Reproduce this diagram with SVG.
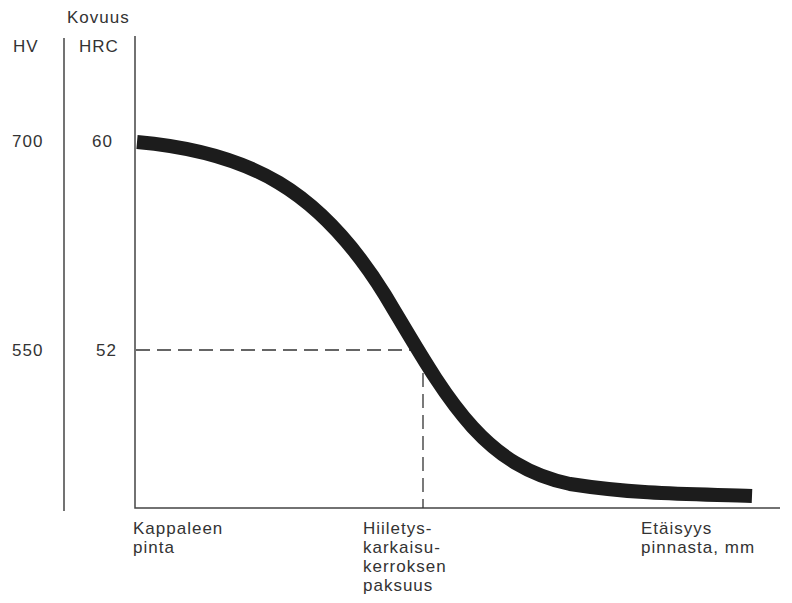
<svg xmlns="http://www.w3.org/2000/svg" width="792" height="603" viewBox="0 0 792 603">
<style>
text{font-family:"Liberation Sans",Arial,sans-serif;font-size:17px;letter-spacing:1px;fill:#333}
.ax{stroke:#444;stroke-width:1.5;fill:none}
.dash{stroke:#333;stroke-width:1.3;fill:none;stroke-dasharray:14 7}
</style>
<rect width="792" height="603" fill="#fff"/>
<g id="axes">
<line class="ax" x1="64" y1="38" x2="64" y2="511"/>
<polyline class="ax" points="135,36 135,508 780,508"/>
</g>
<g id="labels">
<text x="67" y="23">Kovuus</text>
<text x="13" y="52">HV</text>
<text x="79" y="52">HRC</text>
<text x="12" y="147">700</text>
<text x="92" y="147">60</text>
<text x="12" y="356">550</text>
<text x="96" y="356">52</text>
<text x="133" y="534">Kappaleen</text>
<text x="133" y="553">pinta</text>
<text x="363" y="534">Hiiletys-</text>
<text x="363" y="553">karkaisu-</text>
<text x="363" y="572">kerroksen</text>
<text x="363" y="591">paksuus</text>
<text x="641" y="534">Etäisyys</text>
<text x="641" y="553">pinnasta, mm</text>
</g>
<g id="connectors">
<polyline class="dash" points="136,350 420,350"/>
<line class="dash" x1="423" y1="352" x2="423" y2="508"/>
<path d="M137,142 C250,152 320,190 385,295 C445,395 480,465 570,484 C640,495 700,494 752,496" fill="none" stroke="#1c1c1c" stroke-width="14"/>
</g>
</svg>
